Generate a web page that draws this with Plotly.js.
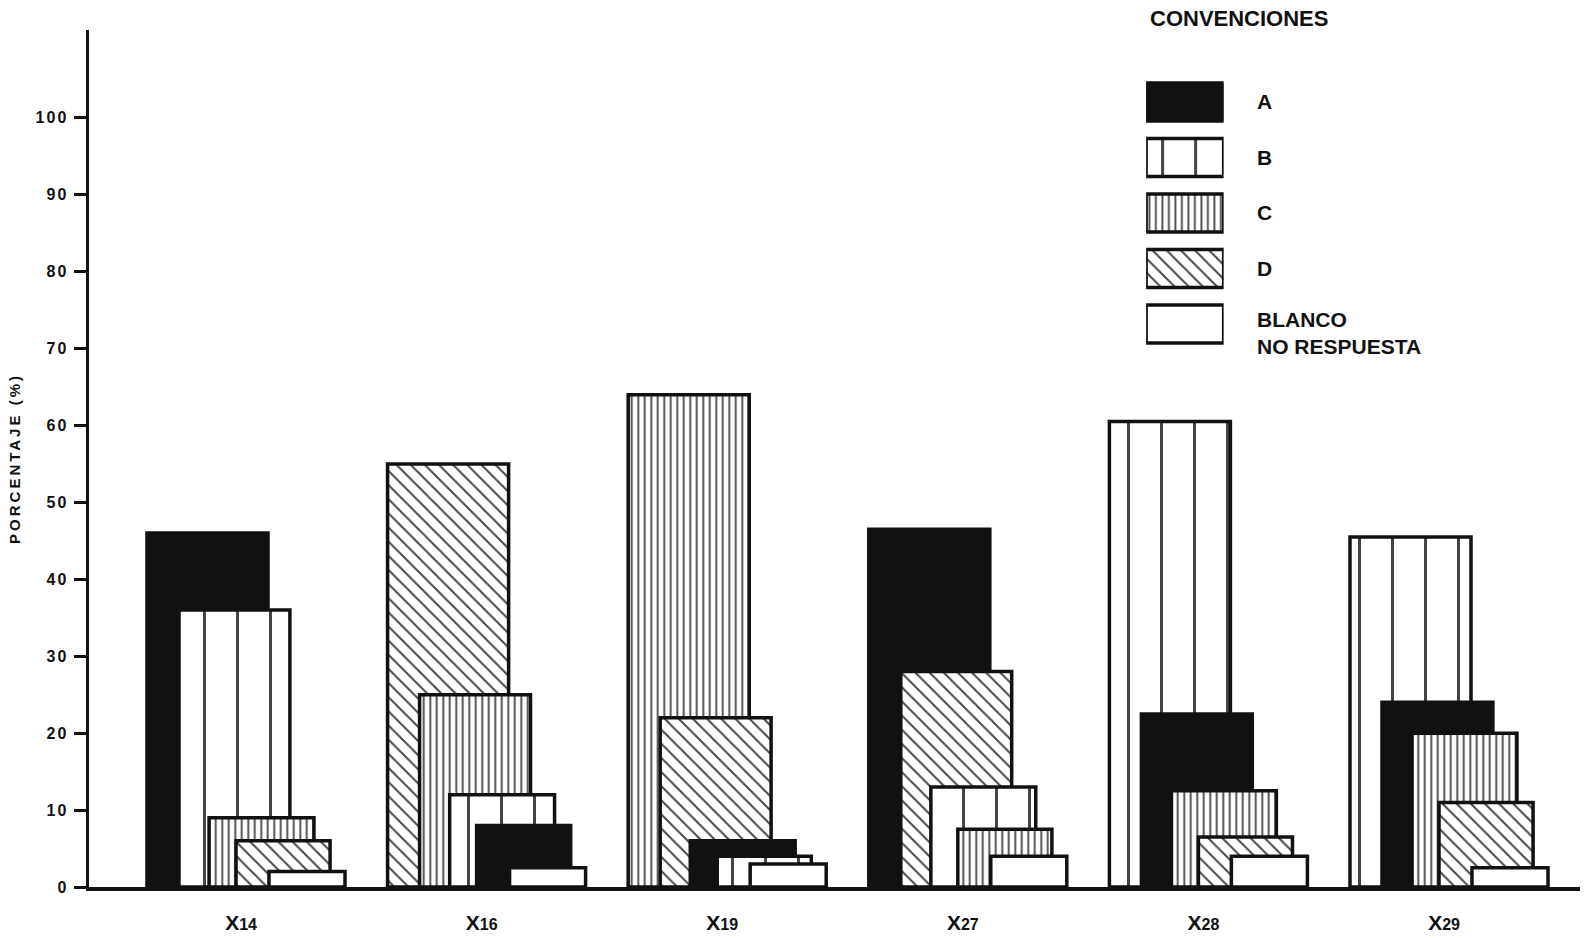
<!DOCTYPE html>
<html>
<head>
<meta charset="utf-8">
<script src="https://cdn.plot.ly/plotly-3.0.1.min.js"></script>
<style>
  html, body { margin: 0; padding: 0; background: #ffffff; }
  #chart { width: 1586px; height: 938px; }
  .ytick text { letter-spacing: 2px; }
  .ytitle { letter-spacing: 3px; }
</style>
</head>
<body>
<div id="chart"></div>
<script>
// ---- data ----
const groups = ['X14', 'X16', 'X19', 'X27', 'X28', 'X29'];
const seriesNames = ['A', 'B', 'C', 'D', 'BLANCO<br>NO RESPUESTA'];
const valuesA      = [46,   8,   6,  46.5, 22.5, 24];
const valuesB      = [36,  12,   4,  13,   60.5, 45.5];
const valuesC      = [ 9,  25,  64,   7.5, 12.5, 20];
const valuesD      = [ 6,  55,  22,  28,    6.5, 11];
const valuesBlanco = [ 2,   2.5, 3,   4,    4,    2.5];
const yTickVals = [0, 10, 20, 30, 40, 50, 60, 70, 80, 90, 100];
const legendTitle = 'CONVENCIONES';
const yTitle = 'PORCENTAJE (%)';

// ---- styling ----
const INK = '#111111';
const styles = [
  { color: INK,       shape: '',   size: 8,   sol: 0.3  },  // A solid black
  { color: '#ffffff', shape: '|',  size: 33,  sol: 0.09 },  // B wide vertical lines
  { color: '#ffffff', shape: '|',  size: 6.5, sol: 0.28 },  // C dense vertical lines
  { color: '#ffffff', shape: '\\', size: 10,  sol: 0.19 },  // D diagonal hatch
  { color: '#ffffff', shape: '',   size: 8,   sol: 0.3  }   // Blanco plain white
];
// stepped layout of the bars inside a group, by rank (tallest first)
const groupStart = -0.391;
const rankLeft  = [0, 0.133, 0.258, 0.370, 0.507];
const rankWidth = [0.503, 0.461, 0.436, 0.391, 0.316];

const allSeries = [valuesA, valuesB, valuesC, valuesD, valuesBlanco];
const FONT = 'Liberation Sans, Arial, sans-serif';

const traces = [];
for (let r = 0; r < allSeries.length; r++) {
  const t = {
    type: 'bar', x: [], y: [], offset: [], width: [],
    showlegend: false, hoverinfo: 'skip',
    marker: {
      color: [], line: { color: INK, width: 3.5 },
      pattern: { shape: [], size: [], solidity: [], fgcolor: INK, fgopacity: 1, bgcolor: '#ffffff', fillmode: 'overlay' }
    }
  };
  groups.forEach((g, gi) => {
    const order = allSeries.map((s, si) => si).sort((a, b) => allSeries[b][gi] - allSeries[a][gi]);
    const si = order[r];
    const st = styles[si];
    t.x.push(gi);
    t.y.push(allSeries[si][gi]);
    t.offset.push(groupStart + rankLeft[r]);
    t.width.push(rankWidth[r]);
    t.marker.color.push(st.color);
    t.marker.pattern.shape.push(st.shape);
    t.marker.pattern.size.push(st.size);
    t.marker.pattern.solidity.push(st.sol);
  });
  traces.push(t);
}

// legend drawn as a small subplot of swatches
traces.push({
  type: 'bar', orientation: 'h',
  y: seriesNames, x: seriesNames.map(() => 1), base: 0,
  xaxis: 'x2', yaxis: 'y2', width: 0.685,
  showlegend: false, hoverinfo: 'skip',
  marker: {
    color: styles.map(s => s.color),
    line: { color: INK, width: 3.5 },
    pattern: {
      shape: styles.map(s => s.shape),
      size: styles.map(s => s.size),
      solidity: styles.map(s => s.sol),
      fgcolor: INK, fgopacity: 1, bgcolor: '#ffffff', fillmode: 'overlay'
    }
  }
});

const annotations = [{
  text: legendTitle, xref: 'paper', yref: 'paper', x: 0.710, y: 1.0134,
  xanchor: 'left', yanchor: 'middle', showarrow: false,
  font: { family: FONT, size: 22, weight: 'bold', color: INK }
}];
seriesNames.forEach(name => {
  const multi = name.indexOf('<br>') >= 0;
  annotations.push({
    text: name, xref: 'paper', yref: 'y2', x: 0.782, y: name,
    xanchor: 'left', yanchor: multi ? 'top' : 'middle', yshift: multi ? 18 : 0,
    align: 'left', showarrow: false,
    font: { family: FONT, size: 21, weight: 'bold', color: INK }
  });
});

const layout = {
  width: 1586, height: 938,
  paper_bgcolor: '#ffffff', plot_bgcolor: '#ffffff',
  margin: { l: 89, r: 6, t: 30, b: 51 },
  barmode: 'overlay',
  showlegend: false,
  font: { family: FONT, color: INK },
  xaxis: {
    range: [-0.632, 5.565], showgrid: false, zeroline: false,
    showline: true, linecolor: INK, linewidth: 3.5,
    tickvals: groups.map((g, i) => i),
    ticktext: groups.map(g => 'X<span style="font-size:16px">' + g.slice(1) + '</span>'),
    ticks: '', ticklabelstandoff: 14,
    tickfont: { family: FONT, size: 21, weight: 'bold', color: INK }
  },
  yaxis: {
    range: [0, 111.4], showgrid: false, zeroline: false,
    showline: true, linecolor: INK, linewidth: 3.5,
    tickvals: yTickVals, ticks: 'outside', ticklen: 12, tickwidth: 3, tickcolor: INK,
    ticklabelstandoff: 2,
    tickfont: { family: FONT, size: 16, weight: 'bold', color: INK },
    title: { text: yTitle, standoff: 12, font: { family: FONT, size: 15, weight: 'bold', color: INK } }
  },
  xaxis2: { domain: [0.709, 0.761], anchor: 'y2', range: [0, 1], visible: false, fixedrange: true },
  yaxis2: {
    domain: [0.6246, 0.9484], anchor: 'x2', type: 'category',
    autorange: 'reversed', visible: false, fixedrange: true
  },
  annotations: annotations
};

Plotly.newPlot('chart', traces, layout, { staticPlot: true, displayModeBar: false });
</script>
</body>
</html>
